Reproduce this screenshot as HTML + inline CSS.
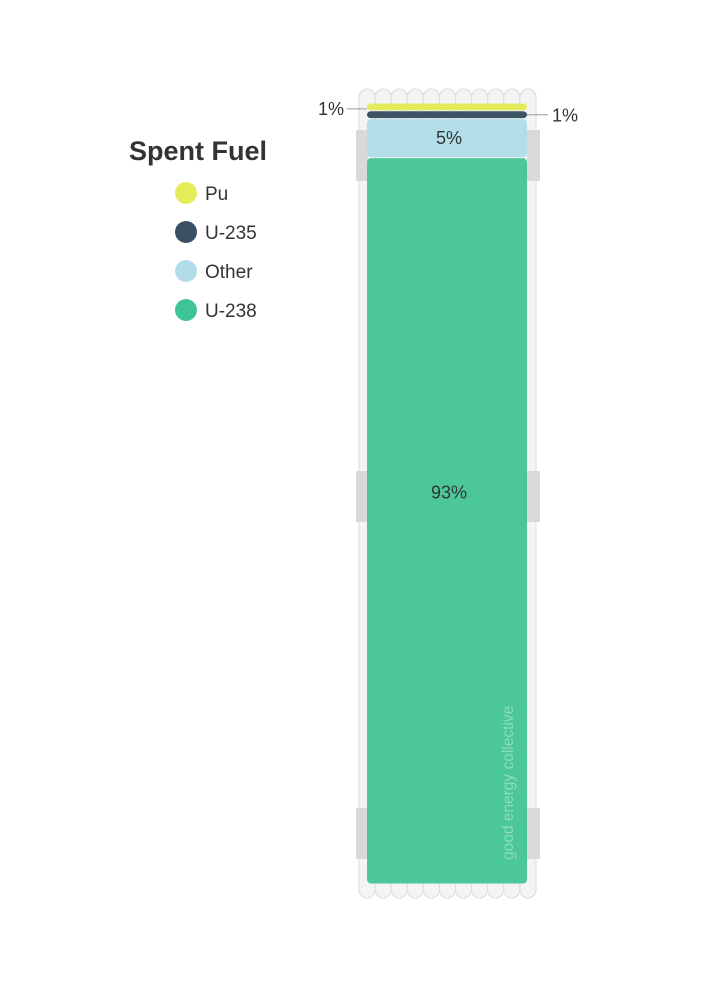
<!DOCTYPE html>
<html><head><meta charset="utf-8"><style>
html,body{margin:0;padding:0;background:#fff;}
svg{display:block;font-family:"Liberation Sans",sans-serif;}
</style></head><body>
<svg width="716" height="983" viewBox="0 0 716 983">
<g id="assembly"></g>
<g id="bars"></g>
<g id="labels"></g>
<text x="129" y="160" font-size="27" font-weight="bold" fill="#333">Spent Fuel</text>
<g id="legend"></g>
<text transform="translate(513,860) rotate(-90)" font-size="15.5" fill="#8fdcbd">good energy collective</text>
</svg>
<script>
const categories = ["Pu","U-235","Other","U-238"];
const values = [1,1,5,93];
const valueLabels = ["1%","1%","5%","93%"];
const colors = ["#e4ec5c","#3d5366","#b3dde9","#4bc79a"];
const legendColors = ["#e5ec59","#3a4f63","#b2dde8","#3ec595"];

const NS="http://www.w3.org/2000/svg";
function mk(tag,attrs,parent){const e=document.createElementNS(NS,tag);for(const k in attrs)e.setAttribute(k,attrs[k]);parent.appendChild(e);return e;}

const asm=document.getElementById('assembly');
const rodX0=359, rodW=(536-359)/11;
for(let i=0;i<11;i++){
  const r=mk('rect',{x:rodX0+i*rodW,y:89,width:rodW,height:809,rx:rodW/2,fill:"#f4f4f4",stroke:"#dcdcdc","stroke-width":1},asm);
  
  
}
[130,471,808].forEach(y=>{
  const a=mk('rect',{x:356,y:y,width:12,height:51,fill:"#d9d9d9"},asm);
  
  
  const b=mk('rect',{x:527,y:y,width:13,height:51,fill:"#d9d9d9"},asm);
  
  
});

const barTop=103, barBottom=884;
const total=values.reduce((a,b)=>a+b,0);
const yScale=v=>v/total*(barBottom-barTop);
const bars=document.getElementById('bars'), labels=document.getElementById('labels');
let cum=0;
values.forEach((v,i)=>{
  const y0=barTop+yScale(cum), h=yScale(v);
  cum+=v;
  const r=mk('rect',{x:367,y:y0+0.5,width:160,height:Math.max(h-1,1),rx:Math.min(4,h/2),fill:colors[i]},bars);
  
  
  let cy=y0+h/2;
  if(h>(barBottom-barTop)/2) cy=(barTop+barBottom)/2-1;
  let t;
  if(h>20){
    t=mk('text',{x:449,y:cy+6,"font-size":18,"text-anchor":"middle",fill:"#333"},labels);
  } else if(i===0){
    mk('line',{x1:347,x2:367,y1:cy+2,y2:cy+2,stroke:"#999","stroke-width":1},labels);
    t=mk('text',{x:344,y:cy+8,"font-size":18,"text-anchor":"end",fill:"#333"},labels);
  } else {
    mk('line',{x1:527,x2:548,y1:cy,y2:cy,stroke:"#999","stroke-width":1},labels);
    t=mk('text',{x:552,y:cy+7,"font-size":18,"text-anchor":"start",fill:"#333"},labels);
  }
  t.textContent=valueLabels[i];
  
  
});

const lg=document.getElementById('legend');
categories.forEach((c,i)=>{
  const y=193+i*39;
  const ci=mk('circle',{cx:186,cy:y,r:11,fill:legendColors[i]},lg);
  
  
  const t=mk('text',{x:205,y:y+7,"font-size":19,fill:"#333"},lg);
  t.textContent=c;
  
  
});
</script>
</body></html>
